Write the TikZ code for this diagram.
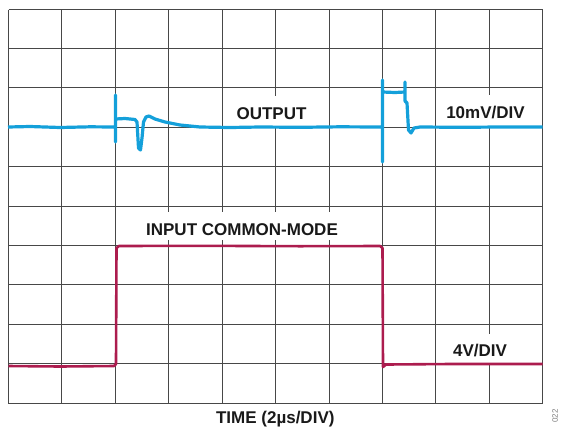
\documentclass[tikz,border=0pt]{standalone}
\usepackage{fontspec}
\setmainfont{Liberation Sans}
\definecolor{gridc}{RGB}{72,72,72}
\definecolor{outc}{RGB}{20,160,218}
\definecolor{inc}{RGB}{172,28,78}
\begin{document}
\begin{tikzpicture}[x=1pt,y=-1pt,
  gridline/.style={draw=gridc,line width=1.4pt},
  lbl/.style={font=\fontsize{17}{19}\selectfont\bfseries,fill=white,inner xsep=4pt,inner ysep=0pt,anchor=base,text=black!90},
  outtrace/.style={draw=outc,line width=3.2pt,line join=round},
  intrace/.style={draw=inc,line width=2.6pt,line join=round}]
\useasboundingbox (0,0) rectangle (564,432);
% grid
\foreach \gx in {8.5,61.5,115.5,168.5,222.5,275.5,329.5,382.5,435.5,489.5,542.5}
  \draw[gridline] (\gx,9.5) -- (\gx,403.5);
\foreach \gy in {9.5,48.5,87.5,127.5,166.5,206.5,245.5,284.5,324.5,363.5,403.5}
  \draw[gridline] (8.5,\gy) -- (542.5,\gy);
% labels with white backgrounds
\node[lbl,text height=23pt,text depth=8pt] (out) at (271.5,119) {OUTPUT};
\node[lbl,text height=23pt,text depth=8pt] (mv) at (485.5,118) {10mV/DIV};
\node[lbl,text height=23pt,text depth=5pt] (icm) at (242,235) {INPUT COMMON-MODE};
\node[lbl,text height=23pt,text depth=6pt] (vd) at (480,356.5) {4V/DIV};
% output trace
\draw[outtrace] (8,127) -- (30,126.5) -- (60,127.5) -- (90,126.8) -- (115.5,127)
  -- (115.5,95) -- (115.5,142) -- (115.5,119) -- (125,118.5) -- (135,119.5)
  -- (137,122) -- (138.5,148) -- (140.5,150) -- (142,138) -- (143.5,122)
  -- (146,117) -- (149,116) -- (155,119) -- (165,122) -- (180,125) -- (200,127)
  -- (230,127.5) -- (260,127) -- (300,127.3) -- (340,126.8) -- (382.5,127)
  -- (382.5,162) -- (382.5,80) -- (382.5,92) -- (395,92.5) -- (405,92)
  -- (405,82) -- (405,101) -- (407,103) -- (408.5,130) -- (411,133)
  -- (414,128) -- (420,127) -- (460,127.3) -- (500,127) -- (542.5,127);
% input trace
\draw[intrace] (8.5,366) -- (60,366.5) -- (114,366) -- (116,364) -- (116.5,248)
  -- (119,246) -- (200,245.8) -- (300,246.2) -- (380,246) -- (382.5,248)
  -- (383,367) -- (386,364.5) -- (450,364) -- (542.5,364);
% axis title
\node[font=\fontsize{17}{19}\selectfont\bfseries,text=black!90,anchor=base] (time) at (275.3,423) {TIME (2µs/DIV)};
\node[font=\fontsize{8}{9}\selectfont,text=gray,rotate=90] (fig) at (555,416) {022};
\end{tikzpicture}
\end{document}
